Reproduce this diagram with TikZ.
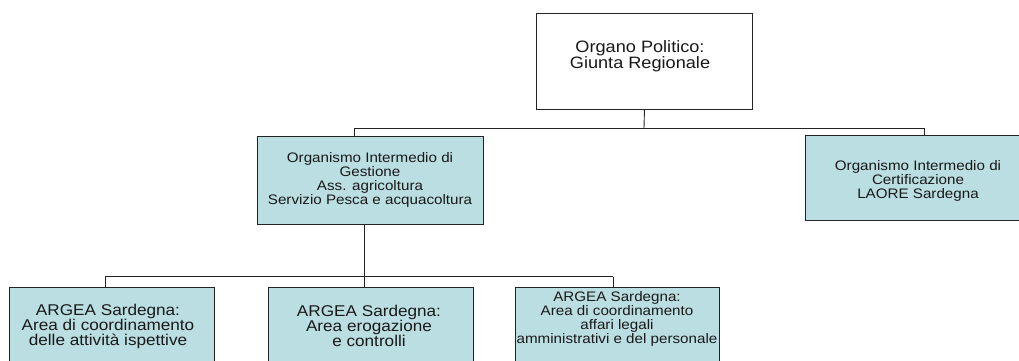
\documentclass[tikz,border=0pt]{standalone}
\usepackage{fontspec}
\setmainfont[FakeStretch=1.1]{Liberation Sans}
\definecolor{boxfill}{RGB}{187,222,226}
\definecolor{edge}{RGB}{35,35,35}
\definecolor{ink}{RGB}{25,25,25}
\begin{document}
\begin{tikzpicture}[x=1pt,y=-1pt,
  box/.style={draw=edge, line width=0.9pt, fill=boxfill, inner sep=0pt, anchor=north west},
  topbox/.style={draw=edge, line width=0.9pt, fill=white, inner sep=0pt, anchor=north west},
  txt/.style={align=center, text=ink, inner sep=0pt, font=\fontsize{13.8}{14}\selectfont},
  widetxt/.style={align=center, text=ink, inner sep=0pt, font=\fontsize{15.6}{15}\selectfont},
  bigtxt/.style={align=center, text=ink, inner sep=0pt, font=\fontsize{16.5}{16}\selectfont},
  wire/.style={draw=edge, line width=0.9pt}]
\useasboundingbox (0,0) rectangle (1019,360);
\clip (0,0) rectangle (1019,360);
% boxes
\node[topbox, minimum width=216pt, minimum height=96pt] (top) at (536,13) {};
\node[box, minimum width=226pt, minimum height=88pt] (gest) at (257,136) {};
\node[box, minimum width=230pt, minimum height=85pt] (cert) at (805,135) {};
\node[box, minimum width=205pt, minimum height=100pt] (b1) at (9,287) {};
\node[box, minimum width=205pt, minimum height=100pt] (b2) at (268,287) {};
\node[box, minimum width=204pt, minimum height=100pt] (b3) at (515,287) {};
% texts
\node[bigtxt] (ttop) at (640,56) {Organo Politico:\\Giunta Regionale};
\node[txt] (tgest) at (370,180) {Organismo Intermedio di\\Gestione\\Ass. agricoltura\\Servizio Pesca e acquacoltura};
\node[txt] (tcert) at (918,181) {Organismo Intermedio di\\Certificazione\\LAORE Sardegna};
\node[widetxt] (tb1) at (108,326) {ARGEA Sardegna:\\Area di coordinamento\\delle attività ispettive};
\node[widetxt] (tb2) at (369,326) {ARGEA Sardegna:\\Area erogazione\\e controlli};
\node[txt] (tb3) at (617,319) {ARGEA Sardegna:\\Area di coordinamento\\affari legali\\amministrativi e del personale};
% connectors
\coordinate (bus) at (644,128);
\coordinate (jg) at (354,128);
\coordinate (jc) at (924,128);
\draw[wire] (top.south) -- (bus);
\draw[wire] (jg) -- (jc);
\draw[wire] (jg) -- (jg |- gest.north);
\draw[wire] (jc) -- (jc |- cert.north);
\coordinate (k) at (364,276.5);
\coordinate (k1) at (105,276.5);
\coordinate (k3) at (613,276.5);
\draw[wire] (k |- gest.south) -- (k);
\draw[wire] (k1) -- (k3);
\draw[wire] (k1) -- (k1 |- b1.north);
\draw[wire] (k) -- (k |- b2.north);
\draw[wire] (k3) -- (k3 |- b3.north);
\end{tikzpicture}
\end{document}
